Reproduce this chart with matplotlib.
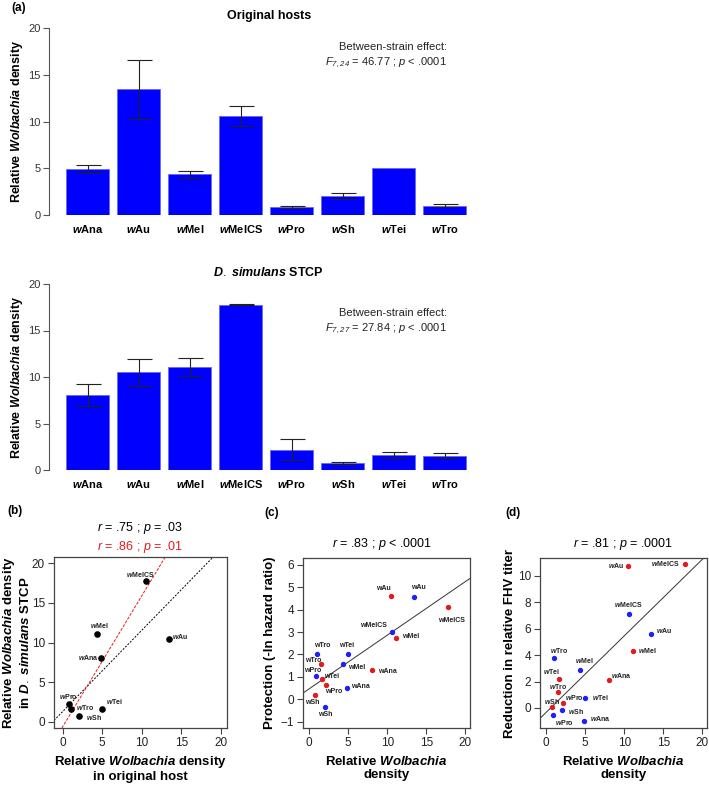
import numpy as np
import matplotlib
matplotlib.use('Agg')
import matplotlib.pyplot as plt

plt.rcParams['font.family'] = ['Liberation Sans', 'DejaVu Sans']
plt.rcParams['mathtext.fontset'] = 'custom'
plt.rcParams['mathtext.it'] = 'Liberation Sans:italic:bold'
plt.rcParams['mathtext.sf'] = 'Liberation Sans:italic'
plt.rcParams['mathtext.rm'] = 'Liberation Sans'

# data, strain order as on the bar charts
strains = ['Ana', 'Au', 'Mel', 'MelCS', 'Pro', 'Sh', 'Tei', 'Tro']
dens_orig = [4.9, 13.45, 4.35, 10.6, 0.85, 2.05, 4.98, 1.0]
err_orig = [0.4, 3.15, 0.38, 1.1, 0.07, 0.3, 0.0, 0.17]
dens_stcp = [8.1, 10.5, 11.1, 17.75, 2.2, 0.7, 1.6, 1.55]
err_stcp = [1.17, 1.47, 0.97, 0.05, 1.15, 0.13, 0.3, 0.23]

prot_orig = [0.52, 4.54, 1.57, 3.0, 1.04, -0.33, 2.0, 2.0]
prot_stcp = [1.3, 4.6, 2.73, 4.1, 0.63, 0.19, 0.9, 1.58]
fhv_orig = [-0.99, 5.6, 2.84, 7.15, -0.56, -0.18, 0.73, 3.75]
fhv_stcp = [2.08, 10.76, 4.28, 10.94, 0.35, 0.05, 2.18, 1.19]

# label placement (pixel offsets, alignment) for the scatter panels
lab_b = [(-3, 0, 'right'), (3, 2, 'left'), (2, 8, 'center'), (-6, 7, 'center'),
         (-1, 8, 'center'), (7, -1, 'left'), (4, 7, 'left'), (5, 2, 'left')]
lab_c_blue = [(4, 1, 'left'), (4, 10, 'center'), (5, -3, 'left'), (-5, 7, 'right'),
              (-3, 5, 'center'), (0, -8, 'center'), (-2, 9, 'center'), (5, 9, 'center')]
lab_c_red = [(6, -1, 'left'), (-8, 8, 'center'), (6, 2, 'left'), (4, -13, 'center'),
             (7, -6, 'center'), (-2, -7, 'center'), (2, 3, 'left'), (0, 3, 'right')]
lab_d_blue = [(6, 3, 'left'), (5, 4, 'left'), (4, 10, 'center'), (-1, 9, 'center'),
              (2, -7, 'left'), (6, -1, 'left'), (7, 1, 'left'), (5, 8, 'center')]
lab_d_red = [(2, 5, 'left'), (-4, 0, 'right'), (5, 1, 'left'), (-5, 0, 'right'),
             (2, 6, 'left'), (0, 6, 'center'), (-7, 8, 'center'), (0, 6, 'center')]

RED = '#e41a1c'
BLUE = '#1f1fff'
W, H = 709, 785


def fig_rect(left, top, right, bottom):
    return [left / W, 1 - bottom / H, (right - left) / W, (bottom - top) / H]


fig = plt.figure(figsize=(W / 100, H / 100), dpi=100)


def bar_panel(rect, vals, errs, title, stat):
    ax = fig.add_axes(rect)
    x = np.arange(len(strains))
    vals = np.array(vals)
    errs = np.array(errs)
    ax.bar(x, vals, width=0.84, color='#0000ff', edgecolor='#6a6ae8', linewidth=0.6)
    m = errs > 0
    ax.errorbar(x[m], vals[m], yerr=errs[m], fmt='none', ecolor='#222222',
                elinewidth=0.8, capsize=9, capthick=0.8)
    ax.set_xlim(-0.76, 7.69)
    ax.set_ylim(0, 20)
    ax.set_yticks([0, 5, 10, 15, 20])
    ax.set_xticks(x)
    ax.set_xticklabels([r'$\mathit{w}$' + s for s in strains], fontweight='bold',
                       fontsize=8)
    for s in ['top', 'right', 'bottom']:
        ax.spines[s].set_visible(False)
    ax.spines['left'].set_color('#555555')
    ax.spines['left'].set_linewidth(0.8)
    ax.tick_params(axis='x', length=0, pad=6)
    ax.tick_params(axis='y', length=4, width=0.8, color='#555555', labelsize=8,
                   labelcolor='#333333', pad=2)
    ax.set_ylabel(r'Relative $\mathit{Wolbachia}$ density', fontsize=9,
                  fontweight='bold', va='center')
    ax.yaxis.set_label_coords(-0.074, 0.5)
    ax.text(0.51, 1.064, title, transform=ax.transAxes, ha='center', va='center',
            fontsize=9, fontweight='bold')
    ax.text(0.923, stat[0], 'Between-strain effect:', transform=ax.transAxes,
            ha='right', va='center', fontsize=8, color='#222222')
    ax.text(0.923, stat[1], stat[2], transform=ax.transAxes,
            ha='right', va='center', fontsize=8, color='#222222')
    return ax


bar_panel(fig_rect(49, 28, 480, 215), dens_orig, err_orig, 'Original hosts',
          (0.898, 0.813, r'$\mathsf{F}_{\mathsf{7,24}}$ = 46.77 ; $\mathsf{p}$ < .0001'))
bar_panel(fig_rect(49, 284, 480, 470), dens_stcp, err_stcp,
          r'$\mathit{D.}$ $\mathit{simulans}$ STCP',
          (0.844, 0.758, r'$\mathsf{F}_{\mathsf{7,27}}$ = 27.84 ; $\mathsf{p}$ < .0001'))


def scatter_axes(rect, xlim, ylim, yticks, ylabel, xlabel, ylab_x):
    ax = fig.add_axes(rect)
    ax.set_xlim(*xlim)
    ax.set_ylim(*ylim)
    ax.set_xticks([0, 5, 10, 15, 20])
    ax.set_yticks(yticks)
    for s in ax.spines.values():
        s.set_color('#444444')
        s.set_linewidth(0.9)
    ax.tick_params(length=4, width=0.8, color='#444444', labelsize=8.5, direction='out',
                   labelcolor='#222222', pad=2.5)
    ax.set_ylabel(ylabel, fontsize=9.5, fontweight='bold', va='center')
    ax.yaxis.set_label_coords(ylab_x, 0.5)
    ax.set_xlabel(xlabel, fontsize=9.5, fontweight='bold', va='center', linespacing=1.1)
    ax.xaxis.set_label_coords(0.5, -0.235)
    return ax


def label_points(ax, xs, ys, offs, italic=True):
    for s, xv, yv, (dx, dy, ha) in zip(strains, xs, ys, offs):
        txt = (r'$\mathit{w}$' if italic else 'w') + s
        ax.annotate(txt, (xv, yv), xytext=(dx, dy), textcoords='offset pixels',
                    ha=ha, va='center', fontsize=5, fontweight='bold', color='#222222')


# (b)
axb = scatter_axes(fig_rect(54, 557, 227, 728), (-1.1, 20.8), (-0.8, 20.8),
                   [0, 5, 10, 15, 20],
                   'Relative $\\mathit{Wolbachia}$ density\nin $\\mathit{D.}$ $\\mathit{simulans}$ STCP',
                   'Relative $\\mathit{Wolbachia}$ density\nin original host', -0.215)
xo = np.array(dens_orig)
ys = np.array(dens_stcp)
m_all, b_all = np.polyfit(xo, ys, 1)
keep = np.array([s != 'Au' for s in strains])
m_sub, b_sub = np.polyfit(xo[keep], ys[keep], 1)
axb.axline((0, b_all), slope=m_all, color='black', lw=0.7, ls=(0, (2, 1.5)))
axb.axline((0, b_sub), slope=m_sub, color=RED, lw=0.7, ls=(0, (3, 1.5)))
axb.scatter(xo, ys, s=14, color='black', zorder=3)
label_points(axb, xo, ys, lab_b)
axb.text(0.497, 1.17, r'$\mathsf{r}$ = .75 ; $\mathsf{p}$ = .03', transform=axb.transAxes,
         ha='center', va='center', fontsize=9)
axb.text(0.497, 1.058, r'$\mathsf{r}$ = .86 ; $\mathsf{p}$ = .01', transform=axb.transAxes,
         ha='center', va='center', fontsize=9, color=RED)

# (c)
axc = scatter_axes(fig_rect(303, 558, 470, 728), (-0.8, 20.6), (-1.28, 6.3),
                   [-1, 0, 1, 2, 3, 4, 5, 6], 'Protection (-ln hazard ratio)',
                   'Relative $\\mathit{Wolbachia}$\ndensity', -0.2)
px = np.concatenate([dens_orig, dens_stcp])
py = np.concatenate([prot_orig, prot_stcp])
mc, bc = np.polyfit(px, py, 1)
axc.axline((0, bc), slope=mc, color='#333333', lw=0.7)
axc.scatter(dens_orig, prot_orig, s=8, color=BLUE, zorder=3)
axc.scatter(dens_stcp, prot_stcp, s=8, color=RED, zorder=3)
label_points(axc, dens_orig, prot_orig, lab_c_blue, italic=False)
label_points(axc, dens_stcp, prot_stcp, lab_c_red, italic=False)
axc.text(0.473, 1.085, r'$\mathsf{r}$ = .83 ; $\mathsf{p}$ < .0001', transform=axc.transAxes,
         ha='center', va='center', fontsize=9)

# (d)
axd = scatter_axes(fig_rect(540, 558, 707, 728), (-0.8, 20.6), (-1.52, 11.36),
                   [0, 2, 4, 6, 8, 10], 'Reduction in relative FHV titer',
                   'Relative $\\mathit{Wolbachia}$\ndensity', -0.18)
fy = np.concatenate([fhv_orig, fhv_stcp])
md, bd = np.polyfit(px, fy, 1)
axd.axline((0, bd), slope=md, color='#333333', lw=0.7)
axd.scatter(dens_orig, fhv_orig, s=8, color=BLUE, zorder=3)
axd.scatter(dens_stcp, fhv_stcp, s=8, color=RED, zorder=3)
label_points(axd, dens_orig, fhv_orig, lab_d_blue)
label_points(axd, dens_stcp, fhv_stcp, lab_d_red)
axd.text(0.497, 1.085, r'$\mathsf{r}$ = .81 ; $\mathsf{p}$ = .0001', transform=axd.transAxes,
         ha='center', va='center', fontsize=9)

# panel letters
for lab, px_, py_ in [('(a)', 19, 8), ('(b)', 15, 511), ('(c)', 272, 513), ('(d)', 513, 513)]:
    fig.text(px_ / W, 1 - py_ / H, lab, ha='center', va='center', fontsize=8.5,
             fontweight='bold')

fig.savefig('out.png', dpi=100)
